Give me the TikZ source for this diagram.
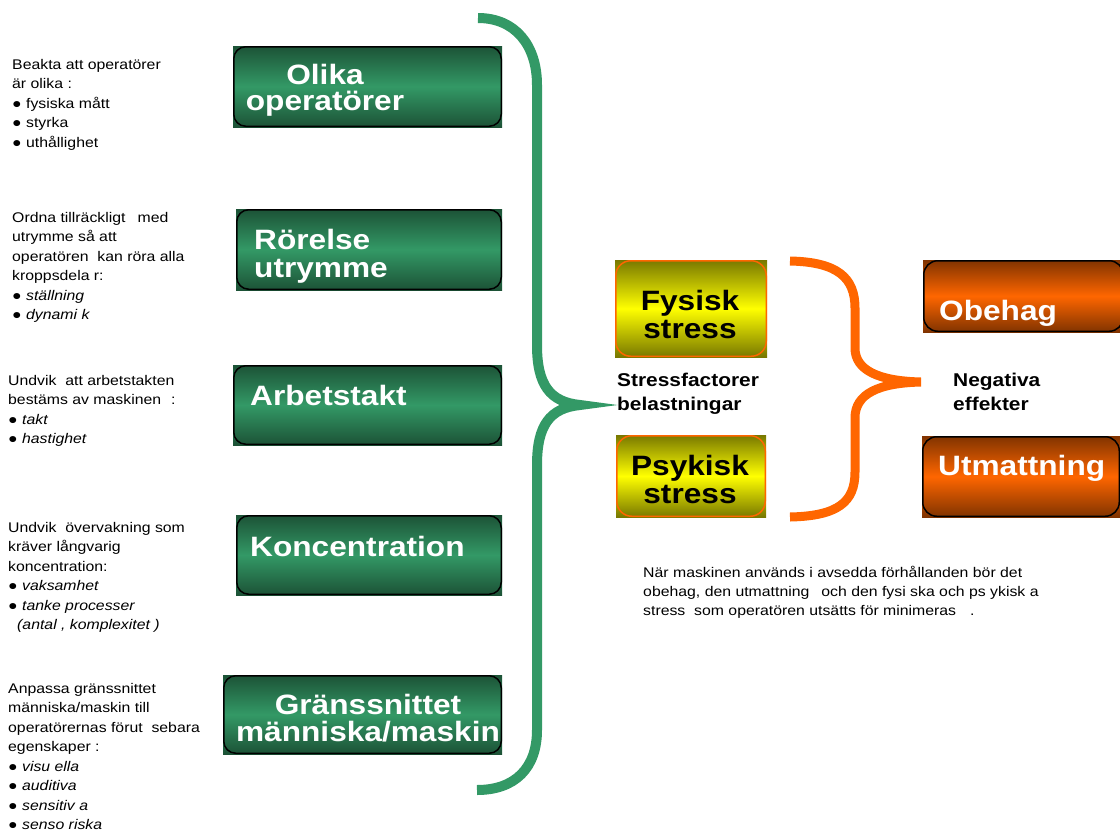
\documentclass[tikz,border=0pt]{standalone}
\usepackage{tikz}
\usepackage{fontspec}
\setmainfont{Liberation Sans}[FakeStretch=1.13]
\definecolor{gdark}{RGB}{28,82,54}
\definecolor{gmid}{RGB}{51,153,102}
\definecolor{ydark}{RGB}{120,120,0}
\definecolor{ymid}{RGB}{255,255,0}
\definecolor{odark}{RGB}{128,51,0}
\definecolor{orng}{RGB}{255,102,0}
\newcommand{\tallstrut}{\rule{0pt}{24pt}}
\newcommand{\itm}{●\ }
\lineskiplimit=-30pt

\tikzset{
  panel/.style n args={4}{rectangle, inner sep=0pt,
    top color=#1, bottom color=#1, middle color=#2,
    path picture={\draw[#3, line width=1.5pt, rounded corners=#4]
      ([shift={(0.75pt,-0.75pt)}]path picture bounding box.north west) rectangle
      ([shift={(-0.75pt,0.75pt)}]path picture bounding box.south east);}},
  gbox/.style={panel={gdark}{gmid}{black}{12pt}},
  ybox/.style={panel={ydark}{ymid}{orng}{15pt}},
  obox/.style={panel={odark}{orng}{black}{14pt}},
  big/.style={inner sep=0pt, align=center,
    font=\fontsize{28}{#1}\selectfont\bfseries},
  big/.default=26,
  small/.style={anchor=north west, inner sep=0pt, align=left,
    font=\fontsize{14}{19.5}\selectfont},
  mid/.style={anchor=north west, inner sep=0pt, align=left,
    font=\fontsize{18.5}{24.5}\selectfont\bfseries}
}

\begin{document}
\begin{tikzpicture}[x=1pt, y=-1pt]
  \useasboundingbox (0,0) rectangle (1120,833);

  \node[small] (beakta) at (12,55.4) {\strut Beakta att operatörer\\är olika :\\\itm fysiska mått\\\itm styrka\\\itm uthållighet};
  \node[small] (ordna) at (12,208.4) {\strut Ordna tillräckligt\hspace{12pt}med\\utrymme så att\\operatören\ \ kan röra alla\\kroppsdela r:\\\itm\textit{ställning}\\\itm\textit{dynami k}};
  \node[small] (takt) at (8,371.4) {\strut Undvik\ \ att arbetstakten\\bestäms av maskinen\hspace{10pt}:\\\itm\textit{takt}\\\itm\textit{hastighet}};
  \node[small] (vakning) at (8,518.4) {\strut Undvik\ \ övervakning som\\kräver långvarig\\koncentration:\\\itm\textit{vaksamhet}\\\itm\textit{tanke processer}\\\hspace*{9pt}\textit{(antal , komplexitet )}};
  \node[small] (anpassa) at (8,679.4) {\strut Anpassa gränssnittet\\människa/maskin till\\operatörernas förut\ \ sebara\\egenskaper :\\\itm\textit{visu ella}\\\itm\textit{auditiva}\\\itm\textit{sensitiv a}\\\itm\textit{senso riska}};

  \node[gbox, minimum width=269, minimum height=81] (olika) at (367.5,86.5) {};
  \node[gbox, minimum width=266, minimum height=81] (rorelse) at (369,249.5) {};
  \node[gbox, minimum width=269, minimum height=80] (arbets) at (367.5,405) {};
  \node[gbox, minimum width=266, minimum height=80] (konc) at (369,555) {};
  \node[gbox, minimum width=279, minimum height=79] (grans) at (362.5,714.5) {};

  \node[big, text=white, anchor=north] (olikaText) at (325,60) {\tallstrut Olika\\operatörer};
  \node[big=28, align=left, text=white, anchor=north west] (rorelseText) at (254,225) {\tallstrut Rörelse\\utrymme};
  \node[big, text=white, anchor=north west] (arbetsText) at (250,381) {\tallstrut Arbetstakt};
  \node[big, text=white, anchor=north west] (koncText) at (250,532) {\tallstrut Koncentration};
  \node[big=27, text=white, anchor=north] (gransText) at (368,690) {\tallstrut Gränssnittet\\människa/maskin};

  \draw[gmid, line width=10pt] (478,18) .. controls (515,18) and (537,45) .. (537,85) -- (537,345)
    .. controls (537,385) and (550,402) .. (580,405) .. controls (550,408) and (537,425) .. (537,465)
    -- (537,730) .. controls (537,768) and (515,790) .. (477,790);

  \node[ybox, minimum width=152, minimum height=97] (fysisk) at (691,308.5) {};
  \node[ybox, minimum width=150, minimum height=82] (psykisk) at (691,476) {};
  \node[big=28, anchor=north] (fysiskText) at (690,286) {\tallstrut Fysisk\\stress};
  \node[big=28, anchor=north] (psykiskText) at (690,451) {\tallstrut Psykisk\\stress};
  \node[mid] (stressf) at (617,368.9) {\strut Stressfactorer\\belastningar};

  \draw[orng, line width=9pt] (790,261) .. controls (838,262) and (855,278) .. (855,308) -- (855,348)
    .. controls (855,370) and (878,381) .. (921,382) .. controls (878,383) and (855,394) .. (855,418)
    -- (855,472) .. controls (855,502) and (838,516) .. (790,517);

  \node[mid] (negativa) at (953,368.9) {\strut Negativa\\effekter};
  \node[obox, minimum width=201, minimum height=72] (obehag) at (1023.5,296) {};
  \node[obox, minimum width=198, minimum height=81] (utmatt) at (1021,476.5) {};
  \node[big, text=white, anchor=north west] (obehagText) at (939,296) {\tallstrut Obehag};
  \node[big, text=white, anchor=north west] (utmattText) at (938,451) {\tallstrut Utmattning};

  \node[small, font=\fontsize{14}{19}\selectfont] (narText) at (643,563.7) {\strut När maskinen används i avsedda förhållanden bör det\\obehag, den utmattning\hspace{12pt}och den fysi ska och ps ykisk a\\stress\ \ som operatören utsätts för minimeras\hspace{14pt}.};
\end{tikzpicture}
\end{document}
